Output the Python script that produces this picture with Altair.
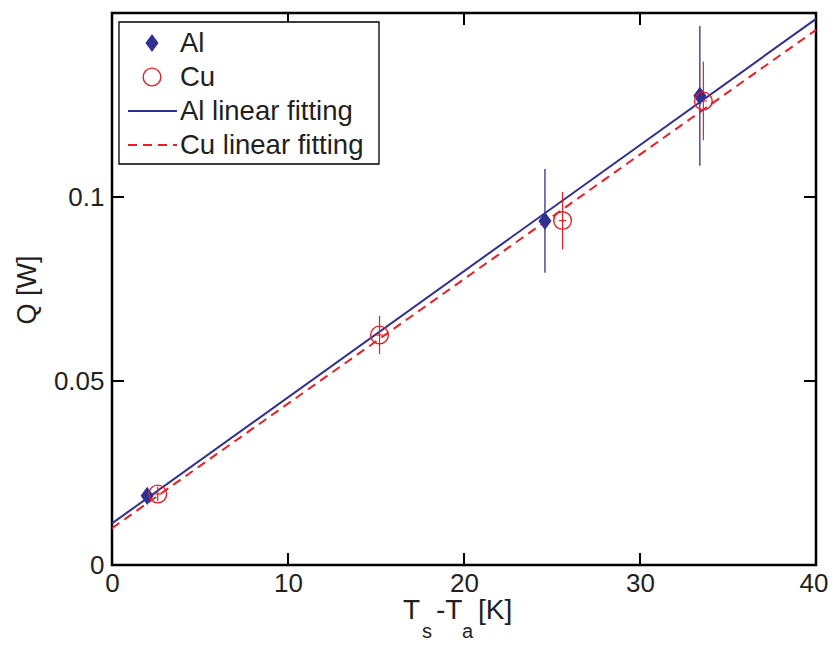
import altair as alt
import pandas as pd

# ---- data ----
al_x = [2.0, 24.6, 33.4]
al_q = [0.0188, 0.0935, 0.1275]
al_err = [0.0015, 0.0141, 0.0190]

cu_x = [2.6, 15.2, 25.6, 33.6]
cu_q = [0.0193, 0.0625, 0.0936, 0.1261]
cu_err = [0.0020, 0.0052, 0.0078, 0.0107]
cu_xerr = [0.2, 0.2, 0.2, 0.2]

fit_x = [0, 40]
al_fit_q = [0.0113, 0.1484]
cu_fit_q = [0.0100, 0.1454]

x_ticks = [0, 10, 20, 30, 40]
y_ticks = [0, 0.05, 0.1]
x_inner_ticks = [10, 20, 30]
y_inner_ticks = [0.05, 0.1]

legend_labels = ["Al", "Cu", "Al linear fitting", "Cu linear fitting"]

# ---- styling ----
BLUE = "#2e3192"
RED = "#ed1c24"
INK = "#231f20"
FONT = "Liberation Sans"
W, H = 704, 552

al = pd.DataFrame({"x": al_x, "q": al_q, "e": al_err})
al["lo"] = al["q"] - al["e"]
al["hi"] = al["q"] + al["e"]
cu = pd.DataFrame({"x": cu_x, "q": cu_q, "e": cu_err, "xe": cu_xerr})
cu["lo"] = cu["q"] - cu["e"]
cu["hi"] = cu["q"] + cu["e"]
cu["xl"] = cu["x"] - cu["xe"]
cu["xh"] = cu["x"] + cu["xe"]
fit = pd.DataFrame({"x": fit_x, "al": al_fit_q, "cu": cu_fit_q})
xt = pd.DataFrame({"v": x_inner_ticks})
yt = pd.DataFrame({"v": y_inner_ticks})
one = pd.DataFrame({"a": [1]})

xs = alt.Scale(domain=[0, 40], nice=False, zero=False)
ys = alt.Scale(domain=[0, 0.15], nice=False, zero=False)
xa = alt.Axis(
    values=x_ticks, title=None, labelFlush=False,
    labelAlign=alt.ExprRef(expr="datum.value == 40 ? 'right' : 'center'"),
    labelOffset=alt.ExprRef(expr="datum.value == 40 ? 12 : 0"),
)
ya = alt.Axis(values=y_ticks, title=None, format="~g")


def X(f):
    return alt.X(f, type="quantitative", scale=xs, axis=xa)


def Y(f):
    return alt.Y(f, type="quantitative", scale=ys, axis=ya)


layers = []
# fit lines
layers.append(alt.Chart(fit).mark_line(color=BLUE, strokeWidth=2).encode(x=X("x"), y=Y("al")))
layers.append(alt.Chart(fit).mark_line(color=RED, strokeWidth=2, strokeDash=[9, 6]).encode(x=X("x"), y=Y("cu")))
# error bars
layers.append(alt.Chart(al).mark_rule(color=BLUE, strokeWidth=1.3).encode(x=X("x"), y=Y("lo"), y2="hi"))
layers.append(alt.Chart(cu).mark_rule(color=RED, strokeWidth=1.2).encode(x=X("x"), y=Y("lo"), y2="hi"))
layers.append(alt.Chart(cu).mark_rule(color=RED, strokeWidth=1.2).encode(x=X("xl"), x2="xh", y=Y("q")))
# markers
diamond = "M0,-1L0.72,0L0,1L-0.72,0Z"
layers.append(alt.Chart(al).mark_point(shape=diamond, filled=True, color=BLUE, size=330, opacity=1).encode(x=X("x"), y=Y("q")))
layers.append(alt.Chart(cu).mark_point(shape="circle", filled=False, color=RED, size=314, strokeWidth=1.4, opacity=1).encode(x=X("x"), y=Y("q")))

# inward ticks on all four sides
TL = 12
layers.append(alt.Chart(xt).mark_rule(color="black", strokeWidth=2).encode(x=X("v"), y=alt.value(H), y2=alt.value(H - TL)))
layers.append(alt.Chart(xt).mark_rule(color="black", strokeWidth=2).encode(x=X("v"), y=alt.value(0), y2=alt.value(TL)))
layers.append(alt.Chart(yt).mark_rule(color="black", strokeWidth=2).encode(y=Y("v"), x=alt.value(0), x2=alt.value(TL)))
layers.append(alt.Chart(yt).mark_rule(color="black", strokeWidth=2).encode(y=Y("v"), x=alt.value(W), x2=alt.value(W - TL)))

# legend box
layers.append(alt.Chart(one).mark_rect(fill="white", stroke="black", strokeWidth=1.3).encode(
    x=alt.value(7), x2=alt.value(267), y=alt.value(9), y2=alt.value(151)))
layers.append(alt.Chart(one).mark_point(shape=diamond, filled=True, color=BLUE, size=330, opacity=1).encode(
    x=alt.value(40), y=alt.value(30)))
layers.append(alt.Chart(one).mark_point(shape="circle", filled=False, color=RED, size=314, strokeWidth=1.4, opacity=1).encode(
    x=alt.value(40), y=alt.value(64)))
layers.append(alt.Chart(one).mark_rule(color=BLUE, strokeWidth=2).encode(
    x=alt.value(16), x2=alt.value(65), y=alt.value(98)))
layers.append(alt.Chart(one).mark_rule(color=RED, strokeWidth=2, strokeDash=[9, 6]).encode(
    x=alt.value(16), x2=alt.value(65), y=alt.value(132)))
for i, lab in enumerate(legend_labels):
    layers.append(alt.Chart(one).mark_text(align="left", baseline="middle", fontSize=27.5, font=FONT, color=INK).encode(
        x=alt.value(68), y=alt.value(31 + 34 * i), text=alt.value(lab)))

# axis titles
layers.append(alt.Chart(one).mark_text(angle=270, align="center", baseline="middle", fontSize=27, font=FONT, color=INK).encode(
    x=alt.value(-84), y=alt.value(277), text=alt.value("Q [W]")))
title_parts = [("T", 291, 606, 28), ("s", 310, 625, 20), ("-T", 324, 606, 28), ("a", 350, 625, 20), ("[K]", 366, 606, 28)]
for txt, px, py, fs in title_parts:
    layers.append(alt.Chart(one).mark_text(align="left", baseline="alphabetic", fontSize=fs, font=FONT, color=INK).encode(
        x=alt.value(px), y=alt.value(py), text=alt.value(txt)))

chart = alt.layer(*layers).properties(
    width=W, height=H,
    padding={"left": 104, "top": 5, "right": 12, "bottom": 77},
    autosize=alt.AutoSizeParams(type="none"),
    background="white",
).configure_view(
    stroke="black", strokeWidth=2.5
).configure_axis(
    grid=False, domain=False, ticks=False,
    labelFont=FONT, labelFontSize=26, labelColor=INK,
).configure_axisX(labelPadding=5).configure_axisY(labelPadding=8)

chart.save("out.html", embed_options={"renderer": "svg", "actions": False})
